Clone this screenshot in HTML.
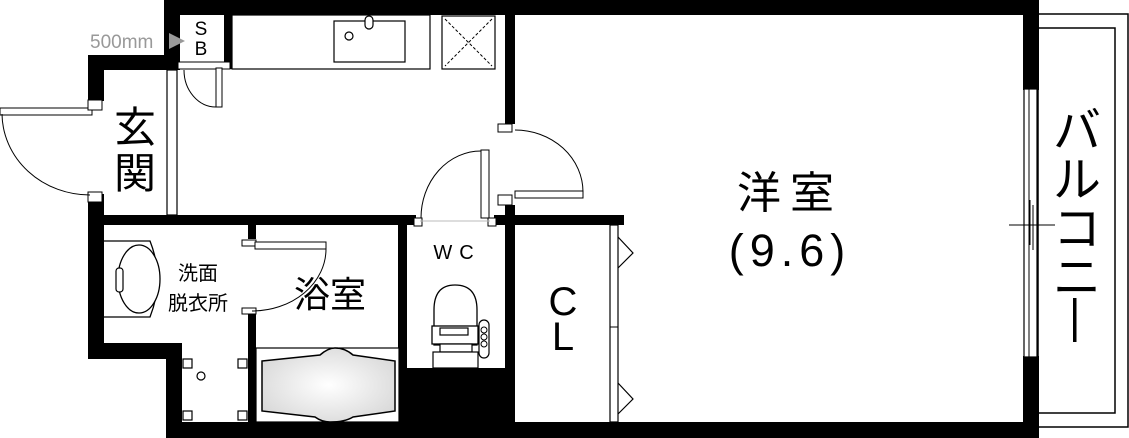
<!DOCTYPE html>
<html><head><meta charset="utf-8"><style>
html,body{margin:0;padding:0;background:#fff;}
svg{display:block;}
text{font-family:"Liberation Sans","Noto Sans CJK JP",sans-serif;fill:#000;}
</style></head><body>
<svg width="1129" height="438" viewBox="0 0 1129 438" xmlns="http://www.w3.org/2000/svg">
<defs>
<radialGradient id="tub" cx="50%" cy="50%" r="60%"><stop offset="0" stop-color="#fff"/><stop offset="1" stop-color="#d8d8d8"/></radialGradient>
</defs>
<rect x="1038" y="14" width="90" height="413" fill="#fff" stroke="#000" stroke-width="1.5"/>
<rect x="1038" y="28" width="77" height="385" fill="#fff" stroke="#000" stroke-width="1.5"/>

<g fill="#000">
<rect x="164" y="0" width="875" height="15"/>
<rect x="164" y="0" width="16" height="70"/>
<rect x="88" y="55" width="92" height="15"/>
<rect x="88" y="55" width="16" height="46"/>
<rect x="88" y="194" width="16" height="165"/>
<rect x="88" y="343" width="94" height="16"/>
<rect x="166" y="343" width="16" height="95"/>
<rect x="166" y="422" width="873" height="16"/>
<rect x="1023" y="0" width="16" height="90"/>
<rect x="1023" y="356" width="16" height="82"/>
<rect x="104" y="215" width="312" height="10"/>
<rect x="494" y="215" width="130" height="10"/>
<rect x="224" y="15" width="8" height="54"/>
<rect x="505" y="0" width="10" height="124"/>
<rect x="505" y="205" width="10" height="217"/>
<rect x="248" y="225" width="8" height="14"/>
<rect x="248" y="310" width="8" height="112"/>
<rect x="398" y="215" width="9" height="207"/>
<rect x="407" y="368" width="98" height="54"/>
</g>

<text x="201" y="35" font-size="19" text-anchor="middle">S</text>
<text x="201" y="55" font-size="19" text-anchor="middle">B</text>
<text x="90" y="48" font-size="19" style="fill:#999">500mm</text>
<polygon points="169,33 185,41 169,49" fill="#999"/>
<rect x="178" y="62" width="52" height="7" fill="#fff" stroke="#000" stroke-width="1"/>
<rect x="216" y="68" width="6" height="39" fill="#fff" stroke="#000" stroke-width="1"/>
<path d="M184,70 A32,37 0 0 0 216,107" fill="none" stroke="#000" stroke-width="1"/>
<rect x="232" y="15" width="198" height="54" fill="#fff" stroke="#000" stroke-width="1.2"/>
<rect x="334" y="21" width="71" height="41" fill="#fff" stroke="#000" stroke-width="1.2"/>
<circle cx="349" cy="36" r="4" fill="#fff" stroke="#000" stroke-width="1.2"/>
<rect x="365" y="16" width="8" height="13" rx="4" fill="#fff" stroke="#000" stroke-width="1.2"/>
<rect x="442" y="16" width="53" height="53" fill="#fff" stroke="#000" stroke-width="1.2"/>
<path d="M445,19 L492,66 M492,19 L445,66" stroke="#000" stroke-width="1" stroke-dasharray="3,2"/>
<rect x="167" y="70" width="10" height="145" fill="#fff" stroke="#000" stroke-width="1.2"/>
<rect x="0" y="108" width="92" height="7" fill="#fff" stroke="#000" stroke-width="1"/>
<rect x="88" y="100" width="14" height="10" fill="#fff" stroke="#000" stroke-width="1"/>
<rect x="88" y="192" width="14" height="10" fill="#fff" stroke="#000" stroke-width="1"/>
<path d="M2,114 A88,82 0 0 0 90,195" fill="none" stroke="#000" stroke-width="1"/>
<text x="135" y="142" font-size="42" text-anchor="middle">玄</text>
<text x="135" y="188" font-size="42" text-anchor="middle">関</text>

<rect x="498" y="124" width="14" height="8" fill="#fff" stroke="#000" stroke-width="1"/>
<rect x="498" y="195" width="14" height="10" fill="#fff" stroke="#000" stroke-width="1"/>
<rect x="515" y="191" width="68" height="7" fill="#fff" stroke="#000" stroke-width="1"/>
<path d="M515,130 A68,62 0 0 1 583,192" fill="none" stroke="#000" stroke-width="1"/>
<rect x="481" y="150" width="8" height="68" fill="#fff" stroke="#000" stroke-width="1"/>
<rect x="414" y="218" width="8" height="8" fill="#fff" stroke="#000" stroke-width="1"/>
<rect x="488" y="218" width="8" height="8" fill="#fff" stroke="#000" stroke-width="1"/>
<path d="M421,218 A60,67 0 0 1 481,151" fill="none" stroke="#000" stroke-width="1"/>
<line x1="420" y1="221" x2="490" y2="221" stroke="#bbb" stroke-width="1"/>

<path d="M104,241 L150,241 Q165,279 150,317 L104,317" fill="#fff" stroke="#000" stroke-width="1.3"/>
<ellipse cx="139" cy="279" rx="21" ry="34" fill="#fff" stroke="#000" stroke-width="1.3"/>
<rect x="116" y="268" width="7" height="24" rx="3" fill="#fff" stroke="#000" stroke-width="1.2"/>
<text x="198" y="280" font-size="20" text-anchor="middle">洗面</text>
<text x="198" y="310" font-size="20" text-anchor="middle">脱衣所</text>
<rect x="183" y="359" width="9" height="9" fill="#fff" stroke="#000" stroke-width="1.2"/>
<rect x="238" y="359" width="9" height="9" fill="#fff" stroke="#000" stroke-width="1.2"/>
<rect x="183" y="411" width="9" height="9" fill="#fff" stroke="#000" stroke-width="1.2"/>
<rect x="238" y="411" width="9" height="9" fill="#fff" stroke="#000" stroke-width="1.2"/>
<circle cx="201" cy="376" r="4" fill="#fff" stroke="#000" stroke-width="1.2"/>

<rect x="242" y="240" width="14" height="6" fill="#fff" stroke="#000" stroke-width="1"/>
<rect x="242" y="308" width="14" height="6" fill="#fff" stroke="#000" stroke-width="1"/>
<rect x="255" y="242" width="71" height="7" fill="#fff" stroke="#000" stroke-width="1"/>
<path d="M326,249 A74,62 0 0 1 252,311" fill="none" stroke="#000" stroke-width="1"/>
<text x="330" y="307" font-size="36" text-anchor="middle">浴室</text>
<rect x="256" y="348" width="143" height="74" fill="#fff" stroke="#000" stroke-width="1.2"/>
<path d="M262,361 L320,355 Q328,348 335,348 Q345,348 353,355 L395,361 L395,411 L353,417 Q345,422 330,422 Q322,422 315,417 L262,411 Z" fill="url(#tub)" stroke="#000" stroke-width="1.5"/>
<text x="457" y="259" font-size="20" text-anchor="middle" letter-spacing="7">WC</text>
<path d="M434,345 L434,310 Q434,285 455,285 Q477,285 477,310 L477,345 Z" fill="#fff" stroke="#000" stroke-width="1.3"/>
<rect x="432" y="326" width="46" height="18" fill="#fff" stroke="#000" stroke-width="1.3"/>
<rect x="440" y="328" width="28" height="7" fill="#fff" stroke="#000" stroke-width="1.2"/>
<rect x="440" y="344" width="32" height="8" fill="#fff" stroke="#000" stroke-width="1.2"/>
<rect x="433" y="352" width="45" height="16" fill="#fff" stroke="#000" stroke-width="1.2"/>
<rect x="479" y="320" width="10" height="38" rx="5" fill="#fff" stroke="#000" stroke-width="1.2"/>
<circle cx="484" cy="330" r="3" fill="#fff" stroke="#000"/>
<circle cx="484" cy="337" r="3" fill="#fff" stroke="#000"/>
<circle cx="484" cy="344" r="3" fill="#fff" stroke="#000"/>

<text x="563" y="315" font-size="40" text-anchor="middle">C</text>
<text x="563" y="350" font-size="40" text-anchor="middle">L</text>
<rect x="610" y="225" width="8" height="197" fill="#fff" stroke="#000" stroke-width="1.2"/>
<line x1="610" y1="327" x2="618" y2="327" stroke="#000"/>
<polyline points="618,237 633,253 618,268" fill="none" stroke="#000" stroke-width="1.2"/>
<polyline points="618,383 633,399 618,414" fill="none" stroke="#000" stroke-width="1.2"/>

<text x="790" y="208" font-size="44" text-anchor="middle" letter-spacing="9">洋室</text>
<text x="790" y="266" font-size="45" text-anchor="middle" letter-spacing="6">(9.6)</text>
<rect x="1024" y="89" width="13" height="268" fill="#fff" stroke="#000" stroke-width="1.2"/>
<line x1="1029" y1="89" x2="1029" y2="357" stroke="#000" stroke-width="1"/>
<line x1="1033" y1="205" x2="1033" y2="250" stroke="#000" stroke-width="1"/>
<line x1="1030" y1="245" x2="1030" y2="200" stroke="#000" stroke-width="1"/>
<line x1="1009" y1="225" x2="1055" y2="225" stroke="#000" stroke-width="1"/>
<g font-size="48" text-anchor="middle">
<text x="1077" y="147">バ</text>
<text x="1077" y="196">ル</text>
<text x="1077" y="245">コ</text>
<text x="1077" y="294">ニ</text>
</g>
<rect x="1073" y="298" width="3.5" height="44" fill="#000"/>
</svg>
</body></html>
